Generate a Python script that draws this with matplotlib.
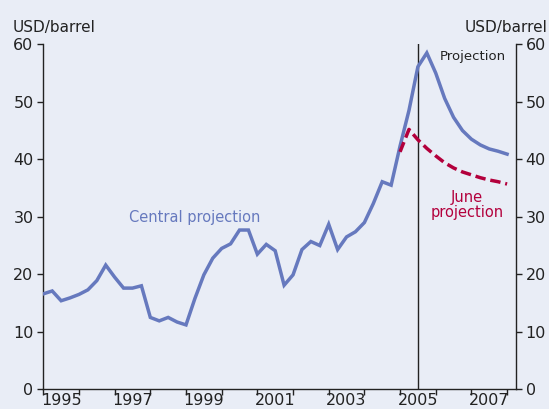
import numpy as np
import matplotlib
matplotlib.use("Agg")
import matplotlib.pyplot as plt

# Quarterly oil price, USD/barrel (history + central projection)
start_year = 1995.0
central = [16.6, 17.1, 15.4, 15.9, 16.5, 17.3, 18.9, 21.6,
           19.5, 17.6, 17.6, 18.0, 12.5, 11.9, 12.5, 11.7,
           11.2, 15.8, 19.9, 22.8, 24.5, 25.3, 27.7, 27.7,
           23.5, 25.2, 24.1, 18.1, 19.9, 24.3, 25.7, 25.0,
           28.7, 24.3, 26.5, 27.4, 29.0, 32.3, 36.1, 35.5,
           42.3, 48.5, 56.1, 58.5, 55.0, 50.6, 47.3, 45.0,
           43.5, 42.5, 41.8, 41.4, 40.9]
# June projection, starting 2005 Q1
june_start = 2005.0
june = [41.3, 45.2, 43.4, 41.9, 40.6, 39.4, 38.5, 37.8,
        37.3, 36.8, 36.4, 36.1, 35.7]
projection_start = 2005.5

year_ticks = list(range(1995, 2009))
year_labels = [1995, 1997, 1999, 2001, 2003, 2005, 2007]
y_ticks = [0, 10, 20, 30, 40, 50, 60]

bg = "#e9edf6"
blue = "#6679be"
red = "#b3003c"

plt.rcParams["font.family"] = ["DejaVu Sans"]

fig = plt.figure(figsize=(5.49, 4.09), dpi=100, facecolor=bg)
ax = fig.add_axes([43.3 / 549, 1 - 389.3 / 409, (516 - 43.3) / 549, (389.3 - 44.3) / 409])
ax.set_facecolor(bg)

x_c = start_year + 0.25 * np.arange(len(central))
x_j = june_start + 0.25 * np.arange(len(june))
ax.plot(x_c, central, color=blue, lw=2.5, solid_joinstyle="miter", zorder=3)
ax.plot(x_j, june, color=red, lw=2.5, dashes=(3.0, 1.4), zorder=3)
ax.axvline(projection_start, color="#222222", lw=1.0, zorder=2)

ax.set_xlim(1995, 2008.25)
ax.set_ylim(0, 60)

ax.set_xticks(year_ticks)
ax.set_xticklabels([])
ax.set_xticks([y + 0.5 for y in year_labels], minor=True)
ax.set_xticklabels([str(y) for y in year_labels], minor=True)
ax.tick_params(axis="x", which="major", direction="out", length=4, width=1, color="#222222")
ax.tick_params(axis="x", which="minor", length=0, pad=3, labelsize=11.5, labelcolor="#222222")

ax.set_yticks(y_ticks)
ax.tick_params(axis="y", which="both", direction="out", length=4, width=1, color="#222222",
               labelsize=11.5, labelcolor="#222222", left=True, right=True,
               labelleft=True, labelright=True, pad=3)

for s in ["left", "bottom", "right"]:
    ax.spines[s].set_color("#222222")
    ax.spines[s].set_linewidth(1.0)
ax.spines["top"].set_visible(False)

ax.text(1999.25, 29.9, "Central projection", color=blue, fontsize=10.5, ha="center", va="center")
ax.text(2006.87, 32.0, "June\nprojection", color=red, fontsize=10.5, ha="center", va="center",
        linespacing=1.0)
ax.text(2007.05, 57.8, "Projection", color="#222222", fontsize=9.5, ha="center", va="center")

fig.text(13 / 549, 1 - 32 / 409, "USD/barrel", fontsize=11, color="#222222", ha="left", va="baseline")
fig.text(548 / 549, 1 - 32 / 409, "USD/barrel", fontsize=11, color="#222222", ha="right", va="baseline")

fig.savefig("out.png", dpi=100, facecolor=bg)
